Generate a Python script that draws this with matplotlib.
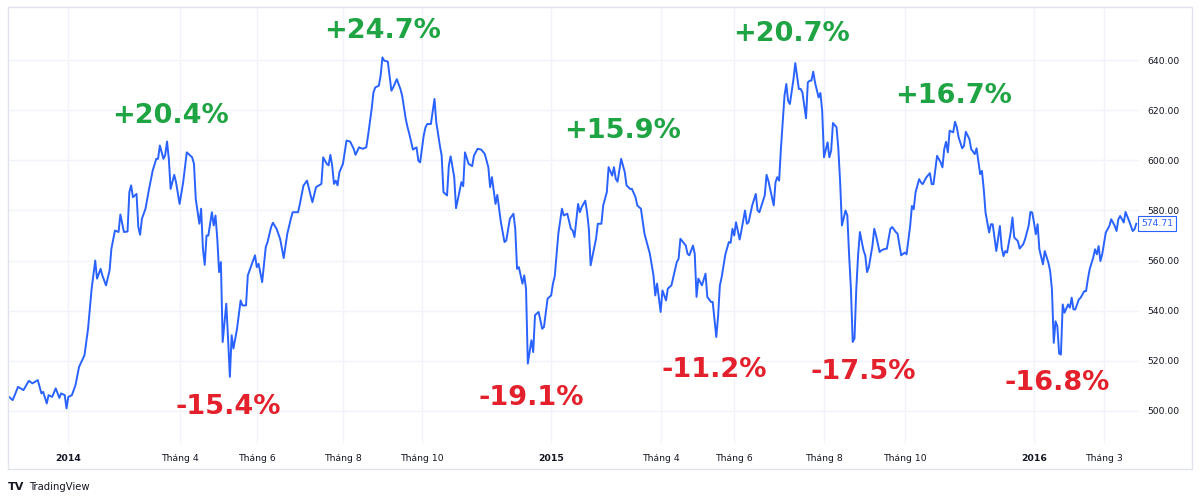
import matplotlib
matplotlib.use("Agg")
import matplotlib.pyplot as plt
import matplotlib.transforms as mtransforms
from matplotlib.patches import Rectangle

# ---- data: trading-session index and index level ----
sessions = [
    0, 2, 5, 8, 11, 13, 16, 18, 19, 21, 22, 24, 26, 28, 29, 31, 32, 33, 35, 37,
    39, 42, 44, 46, 48, 49, 51, 52, 54, 56, 57, 59, 61, 62, 64, 66, 67, 68, 69, 71,
    72, 73, 74, 76, 78, 80, 82, 83, 84, 86, 87, 88, 89, 90, 92, 93, 95, 97, 98, 99,
    102, 103, 104, 106, 107, 108, 109, 110, 111, 113, 114, 115, 116, 117, 118, 119, 121, 122, 123, 124,
    125, 127, 129, 130, 132, 133, 135, 137, 138, 139, 141, 143, 144, 146, 147, 149, 151, 153, 155, 157,
    158, 161, 162, 164, 166, 168, 169, 171, 174, 175, 177, 178, 179, 180, 181, 182, 183, 184, 186, 187,
    188, 190, 192, 193, 195, 197, 199, 200, 202, 203, 204, 206, 207, 208, 209, 211, 213, 214, 216, 218,
    219, 221, 222, 223, 225, 227, 228, 229, 231, 232, 233, 235, 237, 238, 240, 241, 242, 244, 245, 246,
    248, 249, 252, 253, 254, 256, 258, 259, 261, 263, 265, 267, 268, 269, 271, 272, 274, 276, 277, 279,
    281, 282, 283, 284, 286, 287, 288, 289, 291, 292, 293, 295, 297, 298, 300, 302, 303, 304, 306, 308,
    309, 311, 313, 314, 315, 317, 318, 319, 321, 322, 323, 324, 327, 328, 330, 331, 333, 334, 336, 337,
    338, 339, 341, 343, 344, 346, 347, 349, 350, 352, 353, 354, 357, 359, 360, 361, 363, 364, 366, 367,
    369, 372, 373, 374, 377, 378, 379, 381, 382, 383, 384, 386, 388, 389, 391, 392, 394, 395, 396, 397,
    399, 401, 402, 403, 404, 405, 407, 408, 410, 411, 412, 414, 416, 417, 418, 421, 422, 423, 426, 427,
    428, 429, 430, 432, 433, 434, 435, 437, 438, 440, 441, 442, 444, 445, 446, 447, 448, 449, 451, 452,
    453, 454, 456, 457, 458, 459, 461, 462, 463, 464, 466, 467, 468, 469, 470, 471, 472, 473, 474, 476,
    477, 478, 479, 481, 482, 483, 485, 486, 488, 489, 491, 492, 494, 495, 497, 499, 500, 502, 503, 504,
    505, 507, 508, 509, 511, 513, 514, 515, 517, 519, 520, 521, 522, 523, 524, 526, 527, 528, 529, 531,
    532, 533, 535, 536, 538, 539, 541, 542, 543, 544, 546, 547, 548, 550, 552, 553, 554, 555, 556, 558,
    559, 560, 562, 563, 565, 566, 568, 569, 570, 571, 572, 573, 574, 576, 577, 579, 580, 581, 582, 583,
    584, 585, 586, 587, 588, 590, 591, 592, 593, 594, 596, 597, 599, 600, 601, 602, 604, 605, 606, 607,
    608, 609, 611, 613, 614, 616, 617, 618, 619, 621, 622, 624, 626, 627, 628,
]
vnindex = [
    505.6, 504.3, 509.6, 508.3, 512.0, 511.0, 512.3, 507.0, 507.6, 503.0, 506.3, 505.6, 509.0, 505.2, 507.0, 506.3, 501.0, 505.6, 506.3, 510.3,
    517.6, 522.2, 532.8, 548.8, 560.0, 552.8, 556.7, 554.0, 550.1, 556.1, 564.7, 572.0, 571.4, 578.4, 571.4, 571.6, 587.3, 590.0, 585.3, 586.6,
    573.4, 570.3, 576.7, 580.7, 588.6, 595.9, 600.6, 600.6, 605.9, 600.6, 602.2, 607.5, 600.6, 588.6, 594.2, 591.3, 582.6, 591.3, 597.3, 603.2,
    601.2, 598.6, 584.6, 574.7, 580.7, 564.7, 558.3, 570.0, 570.0, 579.3, 574.0, 578.0, 568.7, 555.4, 559.4, 527.5, 542.8, 528.9, 513.6, 530.2,
    524.9, 532.8, 544.1, 542.1, 542.1, 554.1, 558.1, 562.1, 557.4, 558.7, 551.4, 565.4, 567.4, 573.4, 575.1, 572.7, 568.7, 561.0, 570.7, 576.7,
    579.3, 579.3, 582.6, 589.9, 591.9, 586.0, 583.3, 589.3, 590.6, 601.2, 598.6, 598.0, 602.2, 598.0, 590.6, 591.9, 590.0, 595.2, 598.6, 603.2,
    607.9, 607.5, 604.6, 602.2, 605.2, 604.6, 605.2, 609.9, 620.5, 627.1, 629.1, 629.8, 633.8, 641.1, 639.8, 639.4, 627.8, 629.1, 632.4, 628.5,
    625.8, 616.5, 613.2, 610.5, 604.3, 605.2, 599.9, 599.2, 609.9, 613.2, 614.5, 614.5, 624.5, 615.2, 605.9, 601.9, 587.3, 586.0, 597.9, 601.6,
    593.3, 580.9, 591.3, 589.7, 603.2, 598.6, 597.7, 601.9, 604.6, 604.3, 602.6, 597.3, 589.3, 593.3, 582.6, 586.2, 575.3, 567.4, 568.0, 576.7,
    578.7, 572.7, 556.7, 557.4, 550.8, 554.1, 548.8, 518.9, 528.2, 523.5, 538.2, 539.5, 532.8, 533.5, 544.8, 546.1, 550.8, 553.7, 570.7, 580.7,
    578.0, 578.7, 572.7, 572.0, 569.4, 582.6, 579.3, 581.3, 583.9, 579.3, 572.7, 558.1, 568.7, 574.7, 574.7, 582.0, 587.3, 597.3, 593.9, 597.3,
    592.6, 591.5, 600.6, 595.3, 590.0, 588.6, 588.6, 585.3, 582.0, 580.7, 575.6, 570.7, 562.7, 554.1, 546.1, 550.8, 539.5, 548.1, 544.1, 548.8,
    550.1, 559.4, 560.7, 568.7, 566.0, 562.7, 562.1, 566.0, 562.7, 545.5, 552.8, 550.1, 554.8, 545.5, 543.5, 543.5, 529.5, 537.8, 550.1, 553.4,
    562.3, 567.4, 567.1, 572.7, 570.0, 575.3, 568.4, 572.0, 580.0, 574.7, 575.3, 582.0, 586.6, 580.0, 579.3, 586.0, 594.2, 591.9, 582.0, 591.3,
    593.3, 591.9, 604.6, 625.8, 630.5, 623.8, 622.5, 632.4, 638.8, 628.5, 628.5, 627.1, 616.8, 631.1, 631.8, 631.8, 635.4, 631.1, 625.1, 626.9,
    619.8, 601.2, 607.2, 601.2, 603.9, 614.9, 613.2, 604.6, 591.3, 574.0, 580.0, 578.0, 562.1, 548.8, 527.5, 528.9, 548.8, 562.1, 571.4, 564.1,
    562.1, 555.4, 557.4, 566.0, 572.7, 570.0, 563.4, 564.1, 564.7, 564.7, 572.7, 573.4, 571.4, 570.7, 562.1, 563.2, 562.5, 573.8, 581.8, 580.5,
    587.2, 592.5, 591.2, 590.5, 593.2, 594.9, 590.5, 590.5, 601.8, 599.2, 597.2, 604.5, 607.4, 603.2, 611.8, 611.2, 615.4, 613.2, 609.2, 604.8,
    605.8, 611.4, 608.5, 604.5, 602.5, 604.8, 594.5, 595.8, 588.5, 579.2, 571.2, 574.5, 574.5, 563.8, 573.8, 565.2, 561.8, 563.8, 563.2, 571.2,
    577.2, 569.2, 567.8, 564.8, 566.5, 568.5, 573.8, 579.4, 579.2, 575.2, 570.5, 574.5, 564.5, 558.5, 563.8, 559.2, 555.8, 548.5, 527.2, 535.8,
    533.8, 522.9, 522.5, 542.5, 539.2, 542.5, 541.2, 545.2, 540.5, 540.5, 544.5, 545.2, 547.8, 547.8, 552.5, 556.5, 561.2, 564.5, 562.5, 565.8,
    559.8, 562.5, 571.2, 573.8, 576.5, 573.8, 571.8, 576.5, 577.8, 575.2, 579.4, 575.8, 571.8, 572.5, 574.71,
]

tick_sessions = [33, 95, 138, 186, 230, 302, 363, 404, 454, 499, 571, 610]
tick_labels = ["2014", "Tháng 4", "Tháng 6", "Tháng 8", "Tháng 10", "2015",
               "Tháng 4", "Tháng 6", "Tháng 8", "Tháng 10", "2016", "Tháng 3"]
price_ticks = [500, 520, 540, 560, 580, 600, 620, 640]

swing_labels = ["+20.4%", "+24.7%", "-15.4%", "-19.1%", "+15.9%",
                "-11.2%", "+20.7%", "-17.5%", "+16.7%", "-16.8%"]
swing_x = [90, 208, 122, 291, 342, 393, 436, 476, 526, 584]
swing_y = [617.6, 651.6, 501.6, 505.2, 611.6, 516.4, 650.4, 515.6, 625.6, 511.2]

last_price = vnindex[-1]

# ---- figure ----
W, H = 1200, 501
fig = plt.figure(figsize=(W / 100, H / 100), dpi=100)
fig.patch.set_facecolor("white")

left_px, right_px, top_px, bottom_px = 8, 1139, 7, 443
ax = fig.add_axes([left_px / W, 1 - bottom_px / H,
                   (right_px - left_px) / W, (bottom_px - top_px) / H])
ax.set_facecolor("white")

LINE = "#2962ff"
GREEN = "#1fa443"
RED = "#e3202b"
TXT = "#131722"
GRID = "#f0f3fa"

ax.plot(sessions, vnindex, color=LINE, lw=1.4, solid_joinstyle="round", zorder=3)

ax.set_xlim(-0.6, 629.5)
ax.set_ylim(487.2, 661.2)

ax.set_xticks(tick_sessions)
ax.set_xticklabels(tick_labels)
ax.set_yticks(price_ticks)
ax.set_yticklabels([f"{v:.2f}" for v in price_ticks])
ax.yaxis.tick_right()
ax.tick_params(axis="both", length=0, labelsize=6.7, colors=TXT)
ax.tick_params(axis="x", pad=8)
ax.tick_params(axis="y", pad=6)
for lab in ax.get_xticklabels():
    if lab.get_text().isdigit():
        lab.set_fontweight("bold")
ax.grid(True, color=GRID, lw=1, zorder=0)
for s in ax.spines.values():
    s.set_visible(False)

for txt, x, y in zip(swing_labels, swing_x, swing_y):
    ax.text(x, y, txt, ha="center", va="center", fontsize=19.5,
            fontweight="bold", color=GREEN if txt.startswith("+") else RED,
            zorder=4, clip_on=False)

# last price label on price scale
trans = mtransforms.blended_transform_factory(ax.transAxes, ax.transData)
ax.text(1.002, last_price, f"{last_price:.2f}", transform=trans, ha="left",
        va="center", fontsize=6.7, color=LINE,
        bbox=dict(boxstyle="square,pad=0.3", fc="white", ec=LINE, lw=0.8),
        clip_on=False, zorder=5)

# outer panel border
fig.patches.append(Rectangle((8 / W, 1 - 469 / H), (1192 - 8) / W, (469 - 7) / H,
                             transform=fig.transFigure, fill=False,
                             ec="#e0e3eb", lw=1))

# TradingView attribution
fig.text(8 / W, 1 - 487 / H, "TV", fontsize=8, fontweight="bold", color=TXT,
         ha="left", va="center")
fig.text(29 / W, 1 - 487 / H, "TradingView", fontsize=7.2, color=TXT,
         ha="left", va="center")

fig.savefig("out.png", dpi=100, facecolor="white")
